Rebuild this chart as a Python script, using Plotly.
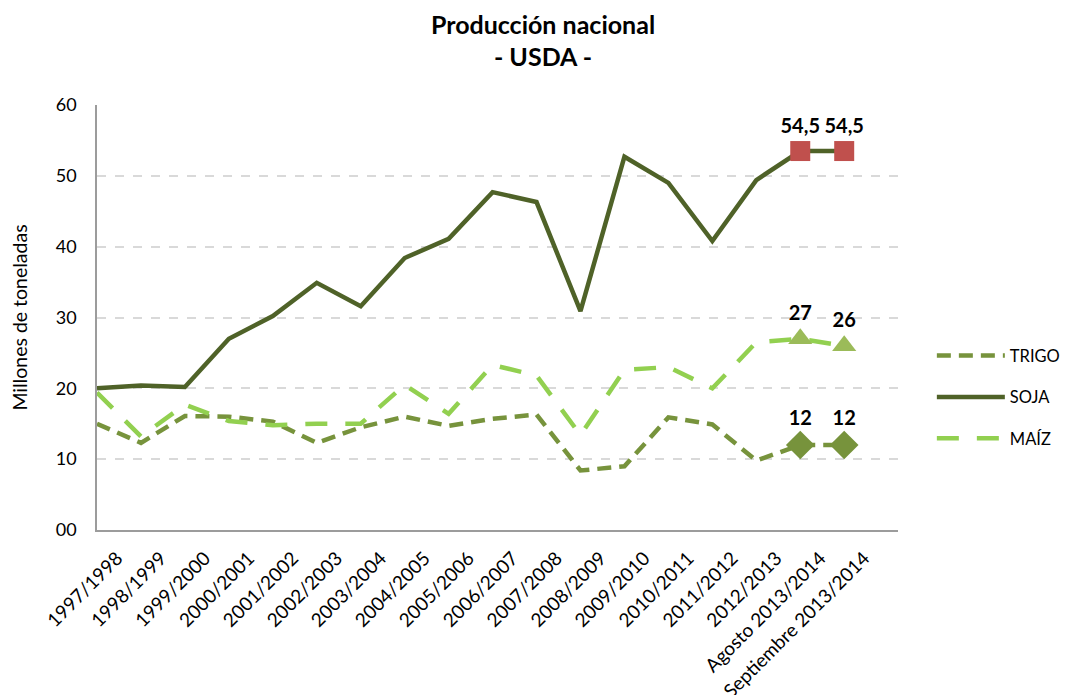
import plotly.graph_objects as go

categories = ["1997/1998", "1998/1999", "1999/2000", "2000/2001", "2001/2002", "2002/2003",
              "2003/2004", "2004/2005", "2005/2006", "2006/2007", "2007/2008", "2008/2009",
              "2009/2010", "2010/2011", "2011/2012", "2012/2013", "Agosto 2013/2014",
              "Septiembre 2013/2014"]
trigo = [15.0, 12.3, 16.1, 16.0, 15.3, 12.3, 14.5, 16.0, 14.7, 15.7, 16.3, 8.4, 9.0, 15.9, 14.9, 9.8, 12.0, 12.0]
soja = [20.0, 20.4, 20.2, 27.0, 30.2, 34.9, 31.6, 38.4, 41.1, 47.7, 46.3, 30.9, 52.7, 49.0, 40.8, 49.4, 53.5, 53.5]
maiz = [19.4, 13.2, 17.7, 15.4, 14.8, 15.0, 15.0, 20.5, 16.4, 23.3, 21.8, 13.4, 22.6, 23.0, 20.0, 26.5, 27.0, 26.0]
label_trigo = ["12", "12"]
label_soja = ["54,5", "54,5"]
label_maiz = ["27", "26"]

C_TRIGO = "#77933C"
C_SOJA = "#4F6228"
C_MAIZ = "#92D050"
FONT = "Lato"

fig = go.Figure()
fig.add_trace(go.Scatter(x=categories, y=trigo, name="TRIGO", mode="lines", legendgroup="t",
                         line=dict(color=C_TRIGO, width=4.5, dash="14px,8px")))
fig.add_trace(go.Scatter(x=categories, y=soja, name="SOJA", mode="lines", legendgroup="s",
                         line=dict(color=C_SOJA, width=4.5)))
fig.add_trace(go.Scatter(x=categories, y=maiz, name="MAÍZ", mode="lines", legendgroup="m",
                         line=dict(color=C_MAIZ, width=4.5, dash="22px,18px")))

last = categories[-2:]
lblfont = dict(family=FONT, size=20, color="black", weight="bold")
fig.add_trace(go.Scatter(x=last, y=trigo[-2:], mode="markers+text", showlegend=False,
                         marker=dict(symbol="diamond", size=22, color=C_TRIGO),
                         text=label_trigo, textposition="top center", textfont=lblfont))
fig.add_trace(go.Scatter(x=last, y=soja[-2:], mode="markers+text", showlegend=False,
                         marker=dict(symbol="square", size=20, color="#C0504D"),
                         text=label_soja, textposition="top center", textfont=lblfont))
fig.add_trace(go.Scatter(x=last, y=maiz[-2:], mode="markers+text", showlegend=False,
                         marker=dict(symbol="triangle-up", size=21, color="#9BBB59"),
                         text=label_maiz, textposition="top center", textfont=lblfont))

fig.update_layout(
    width=1073, height=695,
    paper_bgcolor="white", plot_bgcolor="white",
    margin=dict(l=89, r=183, t=97, b=173),
    font=dict(family=FONT, size=17, color="black"),
    title=dict(text="<b>Producción nacional<br>- USDA -</b>", x=0.4986, xanchor="center",
               y=0.963, yanchor="top", font=dict(family=FONT, size=25, color="black")),
    legend=dict(xref="container", yref="container", x=0.861, y=0.44,
                xanchor="left", yanchor="middle", itemwidth=68,
                font=dict(family=FONT, size=16.5), tracegroupgap=17,
                borderwidth=0, bgcolor="rgba(0,0,0,0)"),
    xaxis=dict(type="category", tickangle=-45, showgrid=False, showline=True,
               linecolor="#9C9C9C", linewidth=1.5, ticks="", automargin=False,
               ticklabelstandoff=8, ticklabelshift=20, tickfont=dict(size=19)),
    yaxis=dict(range=[0, 60], dtick=10, tickformat="02d", showgrid=True,
               gridcolor="#D9D9D9", griddash="dash", gridwidth=1.5,
               showline=True, linecolor="#9C9C9C", linewidth=1.5, zeroline=False,
               ticks="", automargin=False, ticklabelstandoff=15, tickfont=dict(size=18),
               title=dict(text="Millones de toneladas", font=dict(size=19.5), standoff=33)),
)

fig.write_html("out.html")
